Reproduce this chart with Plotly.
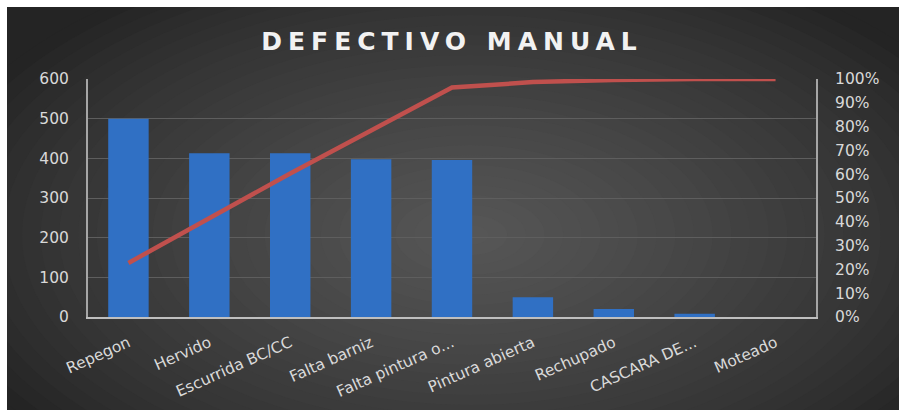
import plotly.graph_objects as go

categories = ["Repegon", "Hervido", "Escurrida BC/CC", "Falta barniz", "Falta pintura o...",
              "Pintura abierta", "Rechupado", "CASCARA DE...", "Moteado"]
counts = [500, 413, 413, 398, 396, 50, 20, 8, 0]
cumulative_pct = [0.227, 0.415, 0.603, 0.784, 0.964, 0.987, 0.996, 1.0, 1.0]
left_ticks = [0, 100, 200, 300, 400, 500, 600]
right_ticks = [i / 10 for i in range(11)]

W, H = 899, 410
L, R, T, B = 88, 816, 79, 317

def px(x):
    return (x - L) / (R - L)

def py(y):
    return (B - y) / (B - T)

shapes = []
shapes.append(dict(type="rect", xref="paper", yref="paper", x0=px(7), x1=px(W + 2),
                   y0=py(H + 2), y1=py(7), fillcolor="#242424", line=dict(width=0), layer="below"))
cx, cy = 470, 235
N = 30
c_out = (36, 36, 36)
c_in = (88, 88, 88)
for i in range(N):
    t = 1 - i / N
    rx, ry = 560 * t, 300 * t
    f = (1 - t) ** 0.8
    col = tuple(int(c_out[k] + (c_in[k] - c_out[k]) * f) for k in range(3))
    shapes.append(dict(type="circle", xref="paper", yref="paper",
                       x0=px(cx - rx), x1=px(cx + rx), y0=py(cy + ry), y1=py(cy - ry),
                       fillcolor="rgb(%d,%d,%d)" % col, line=dict(width=0), layer="below"))

shapes.append(dict(type="rect", xref="paper", yref="paper", x0=px(-5), x1=px(W + 5),
                   y0=py(7), y1=py(-5), fillcolor="white", line=dict(width=0), layer="below"))
shapes.append(dict(type="rect", xref="paper", yref="paper", x0=px(-5), x1=px(7),
                   y0=py(H + 5), y1=py(-5), fillcolor="white", line=dict(width=0), layer="below"))

font_fam = "'DejaVu Sans', sans-serif"
tick_col = "#d9d9d9"

fig = go.Figure()
fig.add_trace(go.Bar(x=categories, y=counts, marker=dict(color="#3070c4", line=dict(width=0)),
                     yaxis="y", name="Cantidad"))
fig.add_trace(go.Scatter(x=categories, y=cumulative_pct, mode="lines",
                         line=dict(color="#c0504d", width=4.5), yaxis="y2", name="% acumulado"))

fig.update_layout(
    width=W, height=H,
    margin=dict(l=L, r=W - R, t=T, b=H - B, autoexpand=False),
    paper_bgcolor="white",
    plot_bgcolor="rgba(0,0,0,0)",
    showlegend=False,
    bargap=0.5,
    shapes=shapes,
    title=dict(text='<span style="letter-spacing:6px">DEFECTIVO MANUAL</span>',
               x=0.5, xref="paper", xanchor="center", y=1 - 41 / H, yanchor="middle",
               font=dict(family=font_fam, size=25, color="#f2f2f2", weight="bold")),
    xaxis=dict(showgrid=False, showline=True, linecolor="#bfbfbf", linewidth=2,
               tickangle=-24, ticks="", ticklabelstandoff=9, automargin=False,
               tickfont=dict(family=font_fam, size=15.5, color=tick_col),
               fixedrange=True),
    yaxis=dict(range=[0, 600], tickvals=left_ticks, showgrid=True, gridcolor="#5e5e5e",
               gridwidth=1, zeroline=False, showline=True, linecolor="#a6a6a6", linewidth=2,
               ticks="", ticklabelstandoff=14, automargin=False,
               tickfont=dict(family=font_fam, size=15.5, color=tick_col)),
    yaxis2=dict(range=[0, 1], tickvals=right_ticks, tickformat=".0%", overlaying="y",
                side="right", showgrid=False, zeroline=False, showline=True,
                linecolor="#a6a6a6", linewidth=2, ticks="", ticklabelstandoff=14,
                automargin=False,
                tickfont=dict(family=font_fam, size=15.5, color=tick_col)),
)

fig.write_html("out.html")
